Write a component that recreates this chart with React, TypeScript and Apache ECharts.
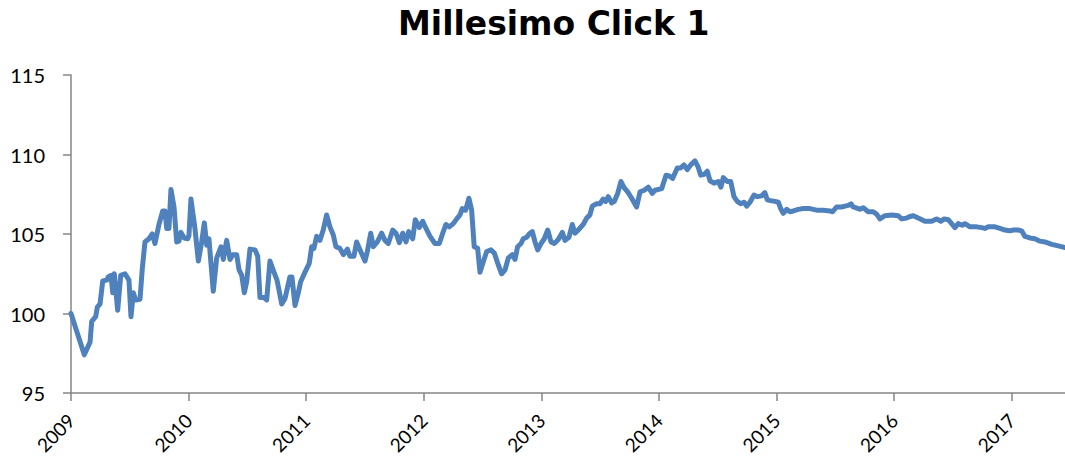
import React, { useEffect, useRef } from "react";
import * as echarts from "echarts";

const titleText = "Millesimo Click 1";
const yearTicks = [2009, 2010, 2011, 2012, 2013, 2014, 2015, 2016, 2017];

const dates = [
  2009.000, 2009.113, 2009.162, 2009.176, 2009.210, 2009.224, 2009.247, 2009.270, 2009.304, 2009.317,
  2009.340, 2009.355, 2009.368, 2009.397, 2009.423, 2009.459, 2009.493, 2009.510, 2009.530, 2009.550,
  2009.587, 2009.606, 2009.629, 2009.663, 2009.691, 2009.714, 2009.748, 2009.780, 2009.799, 2009.814,
  2009.833, 2009.850, 2009.876, 2009.899, 2009.918, 2009.935, 2009.963, 2009.992, 2010.003, 2010.020,
  2010.054, 2010.083, 2010.111, 2010.134, 2010.154, 2010.173, 2010.210, 2010.239, 2010.276, 2010.295,
  2010.324, 2010.352, 2010.375, 2010.409, 2010.429, 2010.452, 2010.474, 2010.494, 2010.522, 2010.565,
  2010.588, 2010.607, 2010.641, 2010.664, 2010.692, 2010.726, 2010.752, 2010.792, 2010.820, 2010.862,
  2010.879, 2010.905, 2010.933, 2010.953, 2010.990, 2011.026, 2011.047, 2011.066, 2011.089, 2011.117,
  2011.145, 2011.174, 2011.202, 2011.230, 2011.253, 2011.287, 2011.316, 2011.350, 2011.372, 2011.406,
  2011.429, 2011.458, 2011.500, 2011.520, 2011.549, 2011.571, 2011.605, 2011.642, 2011.670, 2011.698,
  2011.736, 2011.764, 2011.792, 2011.821, 2011.849, 2011.872, 2011.906, 2011.928, 2011.962, 2011.991,
  2012.019, 2012.053, 2012.095, 2012.132, 2012.161, 2012.189, 2012.217, 2012.251, 2012.280, 2012.308,
  2012.327, 2012.356, 2012.384, 2012.407, 2012.429, 2012.458, 2012.478, 2012.506, 2012.535, 2012.571,
  2012.600, 2012.634, 2012.662, 2012.691, 2012.719, 2012.753, 2012.776, 2012.798, 2012.827, 2012.846,
  2012.875, 2012.903, 2012.923, 2012.946, 2012.969, 2012.997, 2013.025, 2013.054, 2013.082, 2013.110,
  2013.144, 2013.178, 2013.201, 2013.235, 2013.263, 2013.286, 2013.320, 2013.356, 2013.385, 2013.413,
  2013.433, 2013.470, 2013.498, 2013.526, 2013.547, 2013.569, 2013.598, 2013.620, 2013.649, 2013.677,
  2013.705, 2013.734, 2013.768, 2013.810, 2013.839, 2013.875, 2013.909, 2013.943, 2013.966, 2014.023,
  2014.060, 2014.088, 2014.117, 2014.156, 2014.184, 2014.213, 2014.241, 2014.270, 2014.306, 2014.334,
  2014.355, 2014.385, 2014.411, 2014.434, 2014.468, 2014.504, 2014.527, 2014.547, 2014.581, 2014.610,
  2014.638, 2014.666, 2014.695, 2014.723, 2014.746, 2014.774, 2014.808, 2014.836, 2014.873, 2014.901,
  2014.921, 2014.950, 2014.986, 2015.015, 2015.035, 2015.057, 2015.086, 2015.114, 2015.142, 2015.185,
  2015.227, 2015.284, 2015.341, 2015.397, 2015.454, 2015.477, 2015.511, 2015.554, 2015.582, 2015.610,
  2015.633, 2015.652, 2015.695, 2015.709, 2015.737, 2015.780, 2015.822, 2015.851, 2015.879, 2015.922,
  2015.979, 2016.035, 2016.064, 2016.106, 2016.134, 2016.163, 2016.205, 2016.262, 2016.319, 2016.361,
  2016.398, 2016.426, 2016.460, 2016.489, 2016.517, 2016.545, 2016.579, 2016.602, 2016.645, 2016.702,
  2016.744, 2016.772, 2016.800, 2016.857, 2016.900, 2016.942, 2016.985, 2017.013, 2017.055, 2017.084,
  2017.112, 2017.155, 2017.197, 2017.240, 2017.282, 2017.340, 2017.396, 2017.453,
];

const values = [
  100.0, 97.4, 98.2, 99.5, 99.8, 100.4, 100.6, 102.05, 102.1, 102.3,
  102.4, 101.3, 102.5, 100.2, 102.4, 102.5, 102.1, 99.8, 101.3, 100.85,
  100.9, 102.8, 104.5, 104.7, 105.0, 104.4, 105.6, 106.45, 106.45, 105.35,
  105.35, 107.8, 106.7, 104.5, 104.55, 105.1, 104.75, 104.7, 104.9, 107.2,
  105.35, 103.3, 104.5, 105.7, 104.3, 104.7, 101.4, 103.5, 104.2, 103.4,
  104.6, 103.4, 103.7, 103.7, 102.75, 102.4, 101.3, 102.0, 104.05, 104.0,
  103.6, 101.0, 101.0, 100.85, 103.3, 102.6, 102.1, 100.6, 100.95, 102.3,
  102.3, 100.5, 101.3, 102.0, 102.6, 103.15, 104.2, 104.1, 104.85, 104.6,
  105.25, 106.2, 105.45, 104.95, 104.2, 104.1, 103.7, 104.05, 103.6, 103.6,
  104.5, 104.0, 103.3, 103.9, 105.05, 104.2, 104.5, 105.05, 104.6, 104.4,
  105.25, 105.05, 104.45, 105.05, 104.5, 105.15, 104.7, 105.9, 105.4, 105.8,
  105.35, 104.85, 104.4, 104.4, 105.05, 105.6, 105.45, 105.65, 105.95, 106.2,
  106.6, 106.5, 107.25, 106.5, 104.2, 104.1, 102.6, 103.25, 103.9, 104.0,
  103.8, 103.05, 102.5, 102.75, 103.5, 103.7, 103.4, 104.2, 104.4, 104.7,
  104.8, 105.05, 105.15, 104.5, 104.0, 104.4, 104.7, 105.25, 104.5, 104.4,
  104.65, 105.1, 104.6, 104.8, 105.6, 105.05, 105.3, 105.6, 106.0, 106.2,
  106.75, 106.9, 106.9, 107.2, 107.05, 107.35, 106.95, 107.05, 107.55, 108.3,
  107.9, 107.65, 107.25, 106.7, 107.65, 107.75, 107.95, 107.55, 107.75, 107.85,
  108.7, 108.65, 108.5, 109.15, 109.15, 109.35, 109.05, 109.35, 109.6, 109.2,
  108.7, 108.75, 108.95, 108.35, 108.2, 108.3, 107.95, 108.55, 108.3, 108.3,
  107.35, 107.05, 106.9, 107.0, 106.75, 107.0, 107.45, 107.35, 107.4, 107.6,
  107.15, 107.1, 107.05, 107.0, 106.6, 106.3, 106.55, 106.4, 106.45, 106.55,
  106.6, 106.6, 106.5, 106.5, 106.45, 106.4, 106.7, 106.7, 106.75, 106.8,
  106.9, 106.7, 106.6, 106.55, 106.65, 106.4, 106.4, 106.25, 105.95, 106.15,
  106.2, 106.15, 105.95, 106.0, 106.1, 106.15, 106.0, 105.8, 105.8, 105.95,
  105.8, 105.95, 105.9, 105.65, 105.4, 105.65, 105.55, 105.65, 105.45, 105.45,
  105.4, 105.35, 105.45, 105.45, 105.35, 105.25, 105.2, 105.25, 105.25, 105.2,
  104.85, 104.75, 104.7, 104.55, 104.5, 104.35, 104.25, 104.15,
];

const FONT = "Lato, 'Liberation Sans', sans-serif";
const TITLE_FONT = "'DejaVu Sans', 'Open Sans', sans-serif";

export default function App() {
  const ref = useRef<HTMLDivElement>(null);
  useEffect(() => {
    if (!ref.current) return;
    const chart = echarts.init(ref.current, undefined, { renderer: "svg" });
    const seriesData = dates.map((d, i) => [d, values[i]]);
    chart.setOption({
      animation: false,
      backgroundColor: "#ffffff",
      title: {
        text: titleText,
        left: 393,
        top: 2,
        textStyle: { fontFamily: TITLE_FONT, fontWeight: "bold", fontSize: 33, color: "#000000" },
      },
      grid: { left: 71, right: 0, top: 75, bottom: 69, containLabel: false },
      xAxis: {
        type: "value",
        min: 2009,
        max: dates[dates.length - 1],
        interval: 1,
        splitLine: { show: false },
        axisLine: { show: true, onZero: false, lineStyle: { color: "#868686", width: 1.5 } },
        axisTick: { show: true, length: 8, customValues: yearTicks, lineStyle: { color: "#868686", width: 1.5 } },
        axisLabel: {
          customValues: yearTicks,
          rotate: 45,
          margin: 24,
          fontFamily: FONT,
          fontSize: 19,
          color: "#000000",
          formatter: (v: number) => String(Math.round(v)),
        },
      },
      yAxis: {
        type: "value",
        min: 95,
        max: 115,
        interval: 5,
        splitLine: { show: false },
        axisLine: { show: true, lineStyle: { color: "#868686", width: 1.5 } },
        axisTick: { show: true, length: 8, lineStyle: { color: "#868686", width: 1.5 } },
        axisLabel: { margin: 26, fontFamily: FONT, fontSize: 20, color: "#000000" },
      },
      series: [
        {
          type: "line",
          data: seriesData,
          showSymbol: false,
          symbol: "none",
          lineStyle: { color: "#4F81BD", width: 5, join: "round", cap: "round" },
          clip: true,
        },
      ],
    });
    return () => chart.dispose();
  }, []);
  return (
    <div
      ref={ref}
      style={{ position: "fixed", left: 0, top: 0, width: 1065, height: 462, background: "#fff" }}
    />
  );
}
